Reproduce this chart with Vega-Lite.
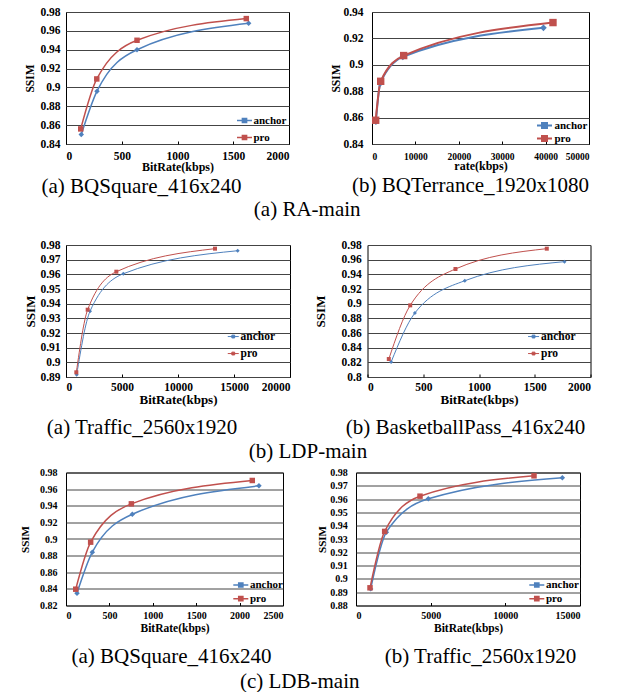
{
  "$schema": "https://vega.github.io/schema/vega-lite/v6.json",
  "background": "white",
  "padding": {"left": 18, "top": 5, "right": 5, "bottom": 0},
  "spacing": 4.5,
  "config": {
    "font": "Times New Roman",
    "style": {"guide-label": {"font": "Times New Roman", "fontWeight": "bold"}, "guide-title": {"font": "Times New Roman", "fontWeight": "bold"}},
    "view": {"stroke": "#000", "strokeWidth": 1},
    "axis": {
      "labelFont": "Times New Roman", "labelFontWeight": "bold", "labelFontSize": 11.5, "labelColor": "#000",
      "titleFont": "Times New Roman", "titleFontWeight": "bold", "titleFontSize": 12, "titleColor": "#000",
      "domain": false
    },
    "axisX": {"labelFont": "Times New Roman", "grid": false, "ticks": true, "tickSize": -3, "tickColor": "#000", "labelPadding": 9, "titlePadding": 1},
    "axisY": {"labelFont": "Times New Roman", "grid": true, "gridColor": "#444", "gridWidth": 1, "ticks": false},
    "title": {"font": "Times New Roman", "fontSize": 21, "fontWeight": "normal", "color": "#000", "orient": "bottom", "offset": 1},
    "legend": {"orient": "none", "title": null, "padding": 0, "symbolSize": 100, "symbolStrokeWidth": 1.5, "labelFont": "Times New Roman", "labelFontWeight": "bold", "labelFontSize": 11, "labelColor": "#000"}
  },
  "vconcat": [
    {
      "spacing": 18,
      "vconcat": [
        {
          "title": {"text": "(a) RA-main", "orient": "bottom", "anchor": "middle", "offset": 2},
          "spacing": 40,
          "resolve": {"scale": {"color": "independent"}, "legend": {"color": "independent"}},
          "hconcat": [
            {
              "width": 223, "height": 132,
              "title": {"text": "(a) BQSquare_416x240", "dx": -36, "offset": 3},
              "data": {"values": [
                {"series": "anchor", "rate": 137, "ssim": 0.850},
                {"series": "anchor", "rate": 278, "ssim": 0.896},
                {"series": "anchor", "rate": 637, "ssim": 0.940},
                {"series": "anchor", "rate": 1638, "ssim": 0.968},
                {"series": "pro", "rate": 132, "ssim": 0.856},
                {"series": "pro", "rate": 276, "ssim": 0.909},
                {"series": "pro", "rate": 637, "ssim": 0.950},
                {"series": "pro", "rate": 1617, "ssim": 0.973}
              ]},
              "encoding": {
                "x": {"field": "rate", "type": "quantitative", "scale": {"domain": [0, 2000]}, "axis": {"values": [0, 500, 1000, 1500, 2000], "format": "d", "title": "BitRate(kbps)", "labelFont": "Times New Roman", "titlePadding": 0}},
                "y": {"field": "ssim", "type": "quantitative", "scale": {"domain": [0.84, 0.98], "zero": false}, "axis": {"values": [0.84, 0.86, 0.88, 0.9, 0.92, 0.94, 0.96, 0.98], "format": ".2~f", "title": "SSIM", "labelFont": "Times New Roman", "labelPadding": 6, "titlePadding": 4, "titleFontSize": 11.5}},
                "color": {"field": "series", "type": "nominal", "scale": {"domain": ["anchor", "pro"], "range": ["#4F81BD", "#C0504D"]},
                  "legend": {"legendX": 172.5, "legendY": 102.5, "labelOffset": 3, "rowPadding": 5, "symbolType": "M-1.5,0H1.5M-0.42,-0.42H0.42V0.42H-0.42Z"}}
              },
              "layer": [
                {"mark": {"type": "line", "interpolate": "monotone", "strokeWidth": 1.5}},
                {"transform": [{"filter": "datum.series === 'anchor'"}], "mark": {"type": "point", "shape": "diamond", "filled": true, "opacity": 1, "size": 30}},
                {"transform": [{"filter": "datum.series === 'pro'"}], "mark": {"type": "point", "shape": "square", "filled": true, "opacity": 1, "size": 30}}
              ]
            },
            {
              "width": 217, "height": 132,
              "title": {"text": "(b) BQTerrance_1920x1080", "dx": -10, "offset": 3},
              "data": {"values": [
                {"series": "anchor", "rate": 900, "ssim": 0.857},
                {"series": "anchor", "rate": 1900, "ssim": 0.886},
                {"series": "anchor", "rate": 7100, "ssim": 0.906},
                {"series": "anchor", "rate": 39500, "ssim": 0.928},
                {"series": "pro", "rate": 850, "ssim": 0.858},
                {"series": "pro", "rate": 2000, "ssim": 0.8875},
                {"series": "pro", "rate": 7300, "ssim": 0.907},
                {"series": "pro", "rate": 41700, "ssim": 0.932}
              ]},
              "encoding": {
                "x": {"field": "rate", "type": "quantitative", "scale": {"domain": [0, 50000]}, "axis": {"values": [0, 10000, 20000, 30000, 40000, 50000], "format": "d", "title": "rate(kbps)", "labelFont": "Times New Roman", "labelFontSize": 9.5, "labelPadding": 10, "titlePadding": 0}},
                "y": {"field": "ssim", "type": "quantitative", "scale": {"domain": [0.84, 0.94], "zero": false}, "axis": {"values": [0.84, 0.86, 0.88, 0.9, 0.92, 0.94], "format": ".2~f", "title": "SSIM", "labelFont": "Times New Roman", "labelPadding": 9, "titlePadding": 1, "titleFontSize": 11.5}},
                "color": {"field": "series", "type": "nominal", "scale": {"domain": ["anchor", "pro"], "range": ["#4F81BD", "#C0504D"]},
                  "legend": {"legendX": 166.5, "legendY": 107.5, "labelOffset": 4, "rowPadding": -5, "symbolStrokeWidth": 2, "symbolType": "M-1.5,0H1.5M-0.5,-0.5H0.5V0.5H-0.5Z"}}
              },
              "layer": [
                {"mark": {"type": "line", "interpolate": "monotone", "strokeWidth": 2}},
                {"transform": [{"filter": "datum.series === 'anchor'"}], "mark": {"type": "point", "shape": "diamond", "filled": true, "opacity": 1, "size": 45}},
                {"transform": [{"filter": "datum.series === 'pro'"}], "mark": {"type": "point", "shape": "square", "filled": true, "opacity": 1, "size": 55}}
              ]
            }
          ]
        },
        {
          "title": {"text": "(b) LDP-main", "orient": "bottom", "anchor": "middle", "offset": 3},
          "spacing": 22.5,
          "resolve": {"scale": {"color": "independent"}, "legend": {"color": "independent"}},
          "hconcat": [
            {
              "width": 224, "height": 132,
              "title": {"text": "(a) Traffic_2560x1920", "dx": -36, "offset": 10},
              "data": {"values": [
                {"series": "anchor", "rate": 955, "ssim": 0.8916},
                {"series": "anchor", "rate": 2143, "ssim": 0.9348},
                {"series": "anchor", "rate": 5119, "ssim": 0.9604},
                {"series": "anchor", "rate": 15327, "ssim": 0.9761},
                {"series": "pro", "rate": 922, "ssim": 0.8932},
                {"series": "pro", "rate": 1935, "ssim": 0.9359},
                {"series": "pro", "rate": 4494, "ssim": 0.9618},
                {"series": "pro", "rate": 13304, "ssim": 0.9775}
              ]},
              "encoding": {
                "x": {"field": "rate", "type": "quantitative", "scale": {"domain": [0, 20000]}, "axis": {"values": [0, 5000, 10000, 15000, 20000], "format": "d", "title": "BitRate(kbps)", "labelFont": "Times New Roman", "titleFontSize": 13, "labelPadding": 7}},
                "y": {"field": "ssim", "type": "quantitative", "scale": {"domain": [0.89, 0.98], "zero": false}, "axis": {"values": [0.89, 0.9, 0.91, 0.92, 0.93, 0.94, 0.95, 0.96, 0.97, 0.98], "format": ".2~f", "title": "SSIM", "labelFont": "Times New Roman", "labelPadding": 6, "titlePadding": 2, "titleFontSize": 13}},
                "color": {"field": "series", "type": "nominal", "scale": {"domain": ["anchor", "pro"], "range": ["#4F81BD", "#C0504D"]},
                  "legend": {"legendX": 161.5, "legendY": 85.8, "labelOffset": 1.5, "rowPadding": 4, "labelFontSize": 11.5, "symbolStrokeWidth": 1, "symbolType": "M-1.1,0H1.1M-0.28,-0.28H0.28V0.28H-0.28Z"}}
              },
              "layer": [
                {"mark": {"type": "line", "interpolate": "monotone", "strokeWidth": 1}},
                {"transform": [{"filter": "datum.series === 'anchor'"}], "mark": {"type": "point", "shape": "diamond", "filled": true, "opacity": 1, "size": 16}},
                {"transform": [{"filter": "datum.series === 'pro'"}], "mark": {"type": "point", "shape": "square", "filled": true, "opacity": 1, "size": 16}}
              ]
            },
            {
              "width": 223, "height": 132,
              "title": {"text": "(b) BasketballPass_416x240", "dx": -13.5, "offset": 10},
              "data": {"values": [
                {"series": "anchor", "rate": 212, "ssim": 0.8205},
                {"series": "anchor", "rate": 425, "ssim": 0.8873},
                {"series": "anchor", "rate": 873, "ssim": 0.9313},
                {"series": "anchor", "rate": 1767, "ssim": 0.9573},
                {"series": "pro", "rate": 191, "ssim": 0.8245},
                {"series": "pro", "rate": 383, "ssim": 0.8977},
                {"series": "pro", "rate": 789, "ssim": 0.9473},
                {"series": "pro", "rate": 1608, "ssim": 0.975}
              ]},
              "encoding": {
                "x": {"field": "rate", "type": "quantitative", "scale": {"domain": [0, 2000]}, "axis": {"values": [0, 500, 1000, 1500, 2000], "format": "d", "title": "BitRate(kbps)", "labelFont": "Times New Roman", "titleFontSize": 13, "labelPadding": 7}},
                "y": {"field": "ssim", "type": "quantitative", "scale": {"domain": [0.8, 0.98], "zero": false}, "axis": {"values": [0.8, 0.82, 0.84, 0.86, 0.88, 0.9, 0.92, 0.94, 0.96, 0.98], "format": ".2~f", "title": "SSIM", "labelFont": "Times New Roman", "labelPadding": 6.3, "titlePadding": 13.5, "titleFontSize": 13}},
                "color": {"field": "series", "type": "nominal", "scale": {"domain": ["anchor", "pro"], "range": ["#4F81BD", "#C0504D"]},
                  "legend": {"legendX": 160.3, "legendY": 85.8, "labelOffset": 1.7, "rowPadding": 4, "labelFontSize": 11.5, "symbolStrokeWidth": 1, "symbolType": "M-1.1,0H1.1M-0.28,-0.28H0.28V0.28H-0.28Z"}}
              },
              "layer": [
                {"mark": {"type": "line", "interpolate": "monotone", "strokeWidth": 1}},
                {"transform": [{"filter": "datum.series === 'anchor'"}], "mark": {"type": "point", "shape": "diamond", "filled": true, "opacity": 1, "size": 16}},
                {"transform": [{"filter": "datum.series === 'pro'"}], "mark": {"type": "point", "shape": "square", "filled": true, "opacity": 1, "size": 16}}
              ]
            }
          ]
        }
      ]
    },
    {
      "title": {"text": "(c) LDB-main", "orient": "bottom", "anchor": "middle", "offset": 3},
      "spacing": 30,
      "resolve": {"scale": {"color": "independent"}, "legend": {"color": "independent"}},
      "hconcat": [
        {
          "width": 217, "height": 133,
          "title": {"text": "(a) BQSquare_416x240", "dx": -3, "offset": 12.5},
          "data": {"values": [
            {"series": "anchor", "rate": 127, "ssim": 0.8348},
            {"series": "anchor", "rate": 303, "ssim": 0.8841},
            {"series": "anchor", "rate": 764, "ssim": 0.9298},
            {"series": "anchor", "rate": 2223, "ssim": 0.964},
            {"series": "pro", "rate": 112, "ssim": 0.8396},
            {"series": "pro", "rate": 284, "ssim": 0.8962},
            {"series": "pro", "rate": 753, "ssim": 0.9423},
            {"series": "pro", "rate": 2146, "ssim": 0.9704}
          ]},
          "encoding": {
            "x": {"field": "rate", "type": "quantitative", "scale": {"domain": [0, 2500]}, "axis": {"values": [0, 500, 1000, 1500, 2000, 2500], "format": "d", "title": "BitRate(kbps)", "labelFont": "Times New Roman", "labelFontSize": 10, "titleFontSize": 11.5, "labelPadding": 7.5, "titlePadding": 2}},
            "y": {"field": "ssim", "type": "quantitative", "scale": {"domain": [0.82, 0.98], "zero": false}, "axis": {"values": [0.82, 0.84, 0.86, 0.88, 0.9, 0.92, 0.94, 0.96, 0.98], "format": ".2~f", "title": "SSIM", "labelFont": "Times New Roman", "labelFontSize": 10, "labelPadding": 9, "titlePadding": 9.5, "titleFontSize": 11}},
            "color": {"field": "series", "type": "nominal", "scale": {"domain": ["anchor", "pro"], "range": ["#4F81BD", "#C0504D"]},
              "legend": {"legendX": 168.8, "legendY": 106.5, "labelOffset": 3.2, "rowPadding": 1.7, "symbolType": "M-1.5,0H1.5M-0.42,-0.42H0.42V0.42H-0.42Z"}}
          },
          "layer": [
            {"mark": {"type": "line", "interpolate": "monotone", "strokeWidth": 1.5}},
            {"transform": [{"filter": "datum.series === 'anchor'"}], "mark": {"type": "point", "shape": "diamond", "filled": true, "opacity": 1, "size": 30}},
            {"transform": [{"filter": "datum.series === 'pro'"}], "mark": {"type": "point", "shape": "square", "filled": true, "opacity": 1, "size": 30}}
          ]
        },
        {
          "width": 224, "height": 133,
          "title": {"text": "(b) Traffic_2560x1920", "dx": 12.5, "offset": 12.5},
          "data": {"values": [
            {"series": "anchor", "rate": 982, "ssim": 0.8925},
            {"series": "anchor", "rate": 2031, "ssim": 0.9351},
            {"series": "anchor", "rate": 4844, "ssim": 0.9602},
            {"series": "anchor", "rate": 13818, "ssim": 0.976},
            {"series": "pro", "rate": 938, "ssim": 0.8933},
            {"series": "pro", "rate": 1920, "ssim": 0.9357},
            {"series": "pro", "rate": 4286, "ssim": 0.9622},
            {"series": "pro", "rate": 11920, "ssim": 0.9775}
          ]},
          "encoding": {
            "x": {"field": "rate", "type": "quantitative", "scale": {"domain": [0, 15000]}, "axis": {"values": [0, 5000, 10000, 15000], "format": "d", "title": "BitRate(kbps)", "labelFont": "Times New Roman", "labelFontSize": 10, "titleFontSize": 11.5, "labelPadding": 7.5, "titlePadding": 2}},
            "y": {"field": "ssim", "type": "quantitative", "scale": {"domain": [0.88, 0.98], "zero": false}, "axis": {"values": [0.88, 0.89, 0.9, 0.91, 0.92, 0.93, 0.94, 0.95, 0.96, 0.97, 0.98], "format": ".2~f", "title": "SSIM", "labelFont": "Times New Roman", "labelFontSize": 10, "labelPadding": 8.7, "titlePadding": 2.8, "titleFontSize": 11}},
            "color": {"field": "series", "type": "nominal", "scale": {"domain": ["anchor", "pro"], "range": ["#4F81BD", "#C0504D"]},
              "legend": {"legendX": 174.8, "legendY": 106.5, "labelOffset": 3.2, "rowPadding": 1.7, "symbolType": "M-1.5,0H1.5M-0.42,-0.42H0.42V0.42H-0.42Z"}}
          },
          "layer": [
            {"mark": {"type": "line", "interpolate": "monotone", "strokeWidth": 1.5}},
            {"transform": [{"filter": "datum.series === 'anchor'"}], "mark": {"type": "point", "shape": "diamond", "filled": true, "opacity": 1, "size": 30}},
            {"transform": [{"filter": "datum.series === 'pro'"}], "mark": {"type": "point", "shape": "square", "filled": true, "opacity": 1, "size": 30}}
          ]
        }
      ]
    }
  ],
  "resolve": {"scale": {"color": "independent"}, "legend": {"color": "independent"}}
}
